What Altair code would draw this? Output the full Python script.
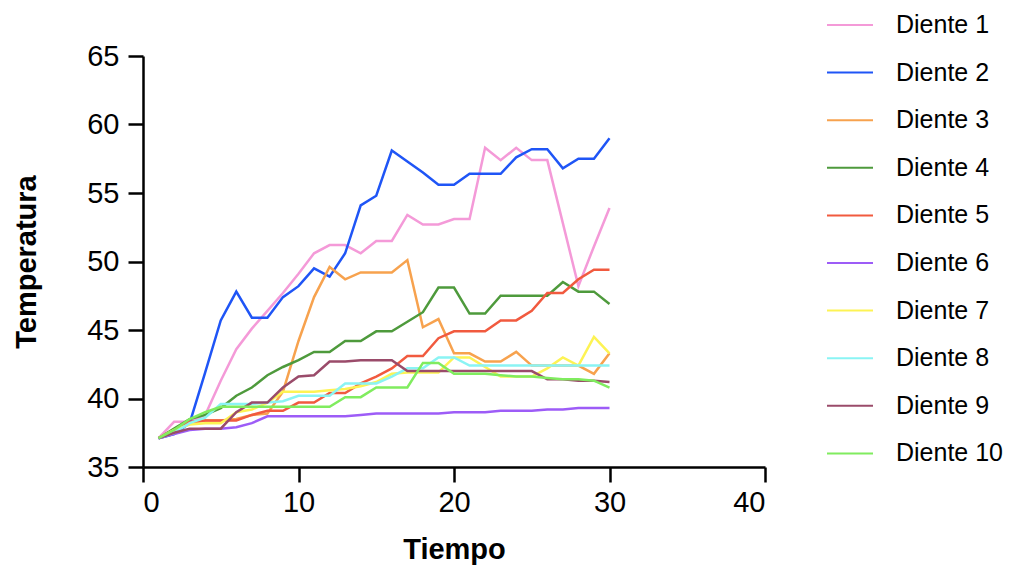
import altair as alt
import pandas as pd

tiempo = list(range(1, 31))
series_names = ["Diente 1", "Diente 2", "Diente 3", "Diente 4", "Diente 5",
                "Diente 6", "Diente 7", "Diente 8", "Diente 9", "Diente 10"]
colors = ["#F49AD8", "#1F55F6", "#F7A24E", "#4E9A3C", "#F15A3F",
          "#9D5CF7", "#FDF354", "#8AF4F4", "#9A4B6A", "#80EC5F"]

d1 = [37.1, 38.3, 38.3, 38.8, 41.3, 43.6, 45.1, 46.4, 47.7, 49.1, 50.6, 51.2, 51.2, 50.6, 51.5,
      51.5, 53.4, 52.7, 52.7, 53.1, 53.1, 58.3, 57.4, 58.3, 57.4, 57.4, 52.8, 48.2, 51.1, 53.9]
d2 = [37.1, 37.4, 38.2, 41.9, 45.7, 47.8, 45.9, 45.9, 47.4, 48.2, 49.5, 48.9, 50.6, 54.1, 54.8,
      58.1, 57.3, 56.5, 55.6, 55.6, 56.4, 56.4, 56.4, 57.6, 58.2, 58.2, 56.8, 57.5, 57.5, 59.0]
d3 = [37.1, 37.7, 38.2, 38.4, 38.4, 38.5, 38.8, 38.9, 40.5, 44.2, 47.4, 49.6, 48.7, 49.2, 49.2,
      49.2, 50.1, 45.2, 45.8, 43.3, 43.3, 42.7, 42.7, 43.4, 42.4, 42.4, 42.4, 42.4, 41.8, 43.3]
d4 = [37.1, 37.8, 38.5, 38.8, 39.3, 40.2, 40.8, 41.7, 42.3, 42.8, 43.4, 43.4, 44.2, 44.2, 44.9,
      44.9, 45.6, 46.3, 48.1, 48.1, 46.2, 46.2, 47.5, 47.5, 47.5, 47.5, 48.5, 47.8, 47.8, 46.9]
d5 = [37.1, 37.7, 38.3, 38.4, 38.4, 38.4, 38.8, 39.1, 39.1, 39.7, 39.7, 40.4, 40.4, 41.1, 41.6,
      42.2, 43.1, 43.1, 44.4, 44.9, 44.9, 44.9, 45.7, 45.7, 46.4, 47.7, 47.7, 48.7, 49.4, 49.4]
d6 = [37.1, 37.4, 37.7, 37.8, 37.8, 37.9, 38.2, 38.7, 38.7, 38.7, 38.7, 38.7, 38.7, 38.8, 38.9,
      38.9, 38.9, 38.9, 38.9, 39.0, 39.0, 39.0, 39.1, 39.1, 39.1, 39.2, 39.2, 39.3, 39.3, 39.3]
d7 = [37.1, 37.7, 38.1, 38.2, 38.2, 39.0, 39.2, 39.7, 40.5, 40.5, 40.5, 40.6, 40.7, 40.9, 41.2,
      41.8, 41.9, 41.9, 41.9, 43.0, 43.0, 42.3, 41.6, 41.6, 41.6, 42.2, 43.0, 42.4, 44.5, 43.3]
d8 = [37.1, 37.5, 38.2, 38.6, 39.6, 39.6, 39.6, 39.7, 39.8, 40.2, 40.2, 40.2, 41.1, 41.1, 41.1,
      41.6, 42.2, 42.2, 43.0, 43.0, 42.4, 42.4, 42.4, 42.4, 42.4, 42.4, 42.4, 42.4, 42.4, 42.4]
d9 = [37.1, 37.5, 37.8, 37.8, 37.8, 39.0, 39.7, 39.7, 40.8, 41.6, 41.7, 42.7, 42.7, 42.8, 42.8,
      42.8, 42.0, 42.0, 42.0, 42.0, 42.0, 42.0, 42.0, 42.0, 42.0, 41.4, 41.4, 41.3, 41.3, 41.2]
d10 = [37.1, 37.7, 38.5, 39.0, 39.4, 39.4, 39.4, 39.4, 39.4, 39.4, 39.4, 39.4, 40.1, 40.1, 40.8,
       40.8, 40.8, 42.6, 42.6, 41.8, 41.8, 41.8, 41.7, 41.6, 41.6, 41.5, 41.4, 41.4, 41.3, 40.8]

all_series = [d1, d2, d3, d4, d5, d6, d7, d8, d9, d10]
x_ticks = [0, 10, 20, 30, 40]
y_ticks = [35, 40, 45, 50, 55, 60, 65]

rows = []
for idx, (name, vals) in enumerate(zip(series_names, all_series)):
    for t, v in zip(tiempo, vals):
        rows.append({"Tiempo": t, "Temperatura": v, "Serie": name, "idx": idx})
df = pd.DataFrame(rows)

FONT = "Liberation Sans"

chart = alt.Chart(df).mark_line(strokeWidth=2.5).encode(
    x=alt.X("Tiempo:Q",
            scale=alt.Scale(domain=[0, 40], nice=False),
            axis=alt.Axis(values=x_ticks, title="Tiempo", labelPadding=6,
                          titleY=82, titleBaseline="middle")),
    y=alt.Y("Temperatura:Q",
            scale=alt.Scale(domain=[35, 65], nice=False, zero=False),
            axis=alt.Axis(values=y_ticks, title="Temperatura", labelPadding=9,
                          titleX=-117, titleBaseline="middle")),
    color=alt.Color("Serie:N",
                    scale=alt.Scale(domain=series_names, range=colors),
                    sort=series_names,
                    legend=alt.Legend(title=None, orient="none", legendX=683, legendY=-55,
                                      symbolType="stroke", symbolSize=2116,
                                      symbolStrokeWidth=2, labelFontSize=25,
                                      labelFont=FONT, labelColor="black",
                                      rowPadding=10.6, labelOffset=22)),
    detail="idx:O",
).properties(
    width=622, height=411,
    autosize=alt.AutoSizeParams(type="none"),
    padding={"left": 135, "top": 48, "right": 243, "bottom": 99},
).configure_axis(
    grid=False,
    domainColor="black", domainWidth=2.5,
    tickColor="black", tickWidth=2.5, tickSize=15,
    labelFontSize=29, labelFont=FONT, labelColor="black",
    titleFontSize=29, titleFont=FONT, titleFontWeight="bold", titleColor="black",
).configure_view(stroke=None)

chart.save("out.html", embed_options={"renderer": "svg", "actions": False})
